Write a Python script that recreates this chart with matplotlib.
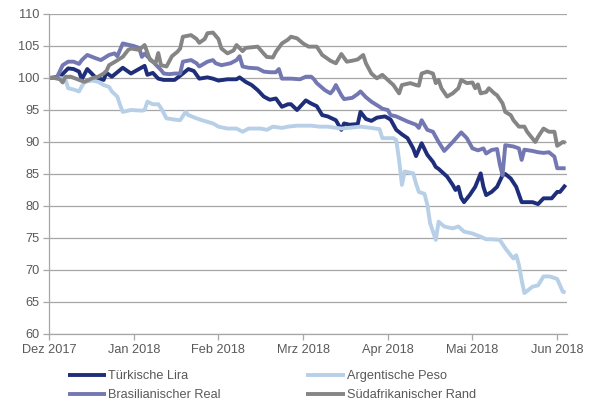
import numpy as np
import pandas as pd
import matplotlib
matplotlib.use("Agg")
import matplotlib.pyplot as plt

plt.rcParams["font.family"] = ["Liberation Sans", "DejaVu Sans"]

TEXT = "#595959"
GRID = "#a6a6a6"

MONTH_LABELS = ["Dez 2017", "Jan 2018", "Feb 2018", "Mrz 2018", "Apr 2018", "Mai 2018", "Jun 2018"]

# --- Türkische Lira ---
lira_dates = [
    "2017-12-01", "2017-12-05", "2017-12-08", "2017-12-10", "2017-12-12", "2017-12-13", "2017-12-15",
    "2017-12-18", "2017-12-21", "2017-12-22", "2017-12-24", "2017-12-28", "2017-12-31",
    "2018-01-05", "2018-01-06", "2018-01-08", "2018-01-10", "2018-01-12", "2018-01-16", "2018-01-19",
    "2018-01-21", "2018-01-23", "2018-01-25", "2018-01-28", "2018-01-30",
    "2018-02-01", "2018-02-04", "2018-02-07", "2018-02-08", "2018-02-10", "2018-02-12", "2018-02-14",
    "2018-02-16", "2018-02-18", "2018-02-20", "2018-02-22", "2018-02-24", "2018-02-25", "2018-02-27",
    "2018-03-02", "2018-03-04", "2018-03-06", "2018-03-08", "2018-03-10", "2018-03-13", "2018-03-15",
    "2018-03-16", "2018-03-18", "2018-03-21", "2018-03-22", "2018-03-24", "2018-03-26", "2018-03-28",
    "2018-03-31",
    "2018-04-02", "2018-04-04", "2018-04-06", "2018-04-08", "2018-04-10", "2018-04-11", "2018-04-13",
    "2018-04-15", "2018-04-17", "2018-04-18", "2018-04-19", "2018-04-22", "2018-04-24", "2018-04-25",
    "2018-04-26", "2018-04-27", "2018-04-28", "2018-04-30",
    "2018-05-02", "2018-05-04", "2018-05-05", "2018-05-06", "2018-05-08", "2018-05-10", "2018-05-12",
    "2018-05-13", "2018-05-15", "2018-05-17", "2018-05-19", "2018-05-23", "2018-05-25", "2018-05-27",
    "2018-05-29", "2018-05-30",
    "2018-06-01", "2018-06-02", "2018-06-04",
]
lira = [
    100.0, 100.2, 101.5, 101.4, 101.0, 99.8, 101.4,
    100.1, 99.7, 100.8, 100.2, 101.6, 100.7,
    101.9, 100.5, 100.8, 99.9, 99.7, 99.7, 100.7,
    101.4, 101.1, 99.9, 100.1, 99.9,
    99.6, 99.8, 99.8, 100.1, 99.4, 98.9, 98.1,
    97.1, 96.6, 96.8, 95.5, 95.9, 95.9, 95.0,
    96.5, 96.0, 95.6, 94.2, 94.0, 93.4, 91.9,
    92.9, 92.7, 92.8, 94.7, 93.6, 93.3, 93.8,
    94.0,
    93.5, 91.9, 91.2, 90.6, 89.0, 87.8, 89.8,
    88.0, 86.9, 86.1, 85.8, 84.6, 83.3, 82.5,
    83.0, 81.3, 80.6, 81.7,
    83.0, 85.1, 83.0, 81.7, 82.2, 83.0, 84.8,
    85.0, 84.3, 83.0, 80.6, 80.6, 80.3, 81.2,
    81.2, 81.2,
    82.2, 82.2, 83.3,
]

# --- Argentinischer Peso ---
peso_dates = [
    "2017-12-01", "2017-12-05", "2017-12-07", "2017-12-08", "2017-12-10", "2017-12-12", "2017-12-13",
    "2017-12-14", "2017-12-17", "2017-12-19", "2017-12-21", "2017-12-23", "2017-12-24", "2017-12-26",
    "2017-12-27", "2017-12-28", "2017-12-31",
    "2018-01-04", "2018-01-05", "2018-01-06", "2018-01-08", "2018-01-10", "2018-01-11", "2018-01-13",
    "2018-01-16", "2018-01-18", "2018-01-20", "2018-01-21", "2018-01-24", "2018-01-26", "2018-01-30",
    "2018-02-01", "2018-02-04", "2018-02-07", "2018-02-09", "2018-02-11", "2018-02-15", "2018-02-17",
    "2018-02-19", "2018-02-22", "2018-02-24", "2018-02-27",
    "2018-03-04", "2018-03-07", "2018-03-10", "2018-03-15", "2018-03-22", "2018-03-26", "2018-03-29",
    "2018-03-30",
    "2018-04-03", "2018-04-04", "2018-04-05", "2018-04-06", "2018-04-07", "2018-04-10", "2018-04-11",
    "2018-04-12", "2018-04-14", "2018-04-15", "2018-04-16", "2018-04-18", "2018-04-19", "2018-04-21",
    "2018-04-24", "2018-04-26", "2018-04-28",
    "2018-05-01", "2018-05-04", "2018-05-06", "2018-05-08", "2018-05-11", "2018-05-13", "2018-05-15",
    "2018-05-16", "2018-05-17", "2018-05-18", "2018-05-19", "2018-05-20", "2018-05-23", "2018-05-25",
    "2018-05-27", "2018-05-29", "2018-05-30",
    "2018-06-01", "2018-06-03", "2018-06-04",
]
peso = [
    100.0, 100.0, 99.8, 98.4, 98.2, 97.9, 98.7,
    99.4, 99.6, 99.4, 98.9, 98.6, 97.9, 97.1,
    95.8, 94.7, 95.0,
    94.9, 95.0, 96.3, 95.9, 95.9, 95.3, 93.7,
    93.5, 93.4, 94.7, 94.2, 93.7, 93.4, 92.9,
    92.4, 92.1, 92.1, 91.6, 92.1, 92.1, 91.9,
    92.4, 92.2, 92.4, 92.55,
    92.55, 92.4, 92.4, 92.1, 92.4, 92.2, 92.0,
    90.6,
    90.6, 90.3, 87.2, 83.3, 85.4, 85.1, 83.5,
    82.2, 81.9, 80.2, 77.3, 74.7, 77.55, 76.8,
    76.5, 76.8, 76.0,
    75.7, 75.2, 74.8, 74.8, 74.7, 73.4, 72.3,
    71.8, 72.3, 70.8, 68.4, 66.4, 67.4, 67.6,
    69.0, 69.0, 68.9,
    68.6, 66.6, 66.5,
]

# --- Brasilianischer Real ---
real_dates = [
    "2017-12-01", "2017-12-03", "2017-12-04", "2017-12-06", "2017-12-08", "2017-12-10", "2017-12-12",
    "2017-12-13", "2017-12-15", "2017-12-18", "2017-12-20", "2017-12-23", "2017-12-25", "2017-12-26",
    "2017-12-28", "2017-12-30",
    "2018-01-01", "2018-01-03", "2018-01-04", "2018-01-05", "2018-01-08", "2018-01-11", "2018-01-12",
    "2018-01-14", "2018-01-16", "2018-01-18", "2018-01-19", "2018-01-22", "2018-01-24", "2018-01-25",
    "2018-01-28", "2018-01-30", "2018-01-31",
    "2018-02-02", "2018-02-05", "2018-02-07", "2018-02-08", "2018-02-09", "2018-02-11", "2018-02-14",
    "2018-02-16", "2018-02-18", "2018-02-20", "2018-02-21", "2018-02-22", "2018-02-25", "2018-02-28",
    "2018-03-02", "2018-03-04", "2018-03-05", "2018-03-06", "2018-03-09", "2018-03-11", "2018-03-12",
    "2018-03-13", "2018-03-15", "2018-03-16", "2018-03-19", "2018-03-21", "2018-03-22", "2018-03-24",
    "2018-03-26", "2018-03-29", "2018-03-30",
    "2018-04-01", "2018-04-02", "2018-04-04", "2018-04-06", "2018-04-08", "2018-04-11", "2018-04-12",
    "2018-04-13", "2018-04-15", "2018-04-17", "2018-04-19", "2018-04-21", "2018-04-24", "2018-04-27",
    "2018-04-29",
    "2018-05-01", "2018-05-03", "2018-05-05", "2018-05-06", "2018-05-08", "2018-05-10", "2018-05-11",
    "2018-05-12", "2018-05-13", "2018-05-16", "2018-05-18", "2018-05-19", "2018-05-20", "2018-05-23",
    "2018-05-25", "2018-05-27", "2018-05-29", "2018-05-31",
    "2018-06-01", "2018-06-04",
]
real = [
    100.0, 100.0, 100.2, 102.0, 102.55, 102.55, 102.2,
    102.8, 103.6, 103.1, 102.8, 103.6, 103.85, 103.4,
    105.4, 105.2,
    105.0, 104.7, 103.3, 103.8, 102.55, 101.25, 100.7,
    100.6, 100.7, 100.7, 102.55, 102.8, 102.3, 101.8,
    102.55, 102.8, 102.3,
    102.0, 102.3, 102.8, 103.4, 101.8, 101.6, 101.5,
    101.0, 100.9, 100.9, 101.4, 99.9, 99.9, 99.8,
    100.2, 100.2, 99.8, 99.2, 98.1, 97.6, 98.1,
    98.9, 97.3, 96.7, 96.9, 97.5, 97.9, 97.0,
    96.3, 95.5, 95.2,
    95.0, 94.2, 94.0, 93.6, 93.2, 92.7, 92.2,
    93.4, 91.9, 91.6, 90.0, 88.6, 90.0, 91.5,
    90.6,
    89.0, 88.7, 89.0, 88.2, 88.75, 88.9, 86.5,
    84.8, 89.5, 89.3, 89.0, 87.2, 88.8, 88.6,
    88.4, 88.3, 88.4, 87.7,
    85.9, 85.9,
]

# --- Südafrikanischer Rand ---
rand_dates = [
    "2017-12-01", "2017-12-03", "2017-12-05", "2017-12-06", "2017-12-07", "2017-12-09", "2017-12-12",
    "2017-12-14", "2017-12-17", "2017-12-19", "2017-12-21", "2017-12-22", "2017-12-23", "2017-12-25",
    "2017-12-28", "2017-12-30", "2017-12-31",
    "2018-01-03", "2018-01-05", "2018-01-07", "2018-01-09", "2018-01-10", "2018-01-11", "2018-01-13",
    "2018-01-15", "2018-01-17", "2018-01-18", "2018-01-19", "2018-01-22", "2018-01-24", "2018-01-25",
    "2018-01-27", "2018-01-28", "2018-01-30",
    "2018-02-01", "2018-02-02", "2018-02-04", "2018-02-06", "2018-02-07", "2018-02-09", "2018-02-10",
    "2018-02-14", "2018-02-16", "2018-02-17", "2018-02-19", "2018-02-20", "2018-02-22", "2018-02-24",
    "2018-02-25", "2018-02-27",
    "2018-03-01", "2018-03-03", "2018-03-06", "2018-03-08", "2018-03-11", "2018-03-13", "2018-03-15",
    "2018-03-17", "2018-03-19", "2018-03-21", "2018-03-23", "2018-03-24", "2018-03-26", "2018-03-28",
    "2018-03-30",
    "2018-04-01", "2018-04-03", "2018-04-05", "2018-04-06", "2018-04-09", "2018-04-11", "2018-04-12",
    "2018-04-13", "2018-04-15", "2018-04-17", "2018-04-18", "2018-04-19", "2018-04-20", "2018-04-22",
    "2018-04-24", "2018-04-26", "2018-04-27", "2018-04-29",
    "2018-05-01", "2018-05-02", "2018-05-03", "2018-05-04", "2018-05-06", "2018-05-07", "2018-05-09",
    "2018-05-10", "2018-05-12", "2018-05-13", "2018-05-15", "2018-05-16", "2018-05-18", "2018-05-20",
    "2018-05-21", "2018-05-24", "2018-05-25", "2018-05-27", "2018-05-29", "2018-05-31",
    "2018-06-01", "2018-06-03", "2018-06-04",
]
rand = [
    100.0, 100.0, 99.8, 99.3, 100.2, 100.2, 99.7,
    99.4, 100.0, 100.2, 100.7, 101.1, 102.0, 102.5,
    103.3, 104.4, 104.6,
    104.4, 105.15, 102.8, 102.3, 103.9, 102.0, 101.8,
    103.4, 104.1, 104.6, 106.45, 106.7, 106.1, 105.5,
    106.1, 107.0, 107.1,
    106.1, 104.6, 103.85, 104.3, 105.15, 104.2, 104.7,
    104.9, 103.8, 103.3, 103.2, 104.1, 105.4, 106.0,
    106.45, 106.2,
    105.4, 104.9, 104.9, 103.6, 102.7, 102.3, 103.75,
    102.55, 102.7, 102.9, 103.6, 102.3, 100.7, 99.95,
    100.5,
    99.7, 98.9, 97.6, 98.9, 99.2, 98.9, 98.8,
    100.7, 101.0, 100.7, 99.2, 99.7, 98.4, 97.1,
    97.6, 98.4, 99.7, 99.2,
    99.3, 98.4, 99.0, 97.6, 97.8, 98.4, 97.6,
    97.3, 96.05, 94.7, 94.2, 93.4, 92.4, 92.4,
    91.6, 90.0, 90.8, 92.1, 91.6, 91.6,
    89.4, 90.0, 89.9,
]

SERIES = [
    ("Türkische Lira", lira_dates, lira, "#1f2e7a"),
    ("Argentische Peso", peso_dates, peso, "#b8cfe8"),
    ("Brasilianischer Real", real_dates, real, "#7478b2"),
    ("Südafrikanischer Rand", rand_dates, rand, "#858585"),
]


def month_pos(dates):
    # months since 1 Dec 2017, each month the same width (category-style axis)
    d = pd.to_datetime(pd.Series(dates))
    m = (d.dt.year - 2017) * 12 + d.dt.month - 12
    return (m + (d.dt.day - 1) / d.dt.days_in_month).to_numpy()


fig = plt.figure(figsize=(5.89, 4.03), dpi=100)
ax = fig.add_axes([49 / 589, 69 / 403, 518 / 589, 320 / 403])

lines = {}
for name, dts, vals, color in SERIES:
    (ln,) = ax.plot(month_pos(dts), vals, color=color, lw=2.8, label=name,
                    solid_joinstyle="round", solid_capstyle="butt")
    lines[name] = ln

ax.set_xlim(0, 6.116)
ax.set_ylim(60, 110)
ax.set_yticks(np.arange(60, 111, 5))
ax.set_xticks(range(len(MONTH_LABELS)))
ax.set_xticklabels(MONTH_LABELS)

ax.grid(axis="y", color=GRID, lw=0.9)
ax.set_axisbelow(True)
for s in ["top", "right"]:
    ax.spines[s].set_visible(False)
for s in ["left", "bottom"]:
    ax.spines[s].set_color(GRID)
    ax.spines[s].set_linewidth(0.9)
ax.tick_params(axis="both", colors=GRID, length=4, width=0.9, labelcolor=TEXT, labelsize=9.2)
ax.tick_params(axis="y", pad=3)
ax.tick_params(axis="x", pad=3)

order = ["Türkische Lira", "Brasilianischer Real", "Argentische Peso", "Südafrikanischer Rand"]
fig.legend([lines[n] for n in order], order, loc="upper left",
           bbox_to_anchor=(68 / 589, 1 - 370 / 403), ncol=2, frameon=False,
           fontsize=9.2, labelcolor=TEXT, handlelength=3.0, handletextpad=0.15,
           columnspacing=6.7, labelspacing=0.55, borderpad=0, borderaxespad=0)

fig.savefig("out.png", dpi=100, facecolor="white")
